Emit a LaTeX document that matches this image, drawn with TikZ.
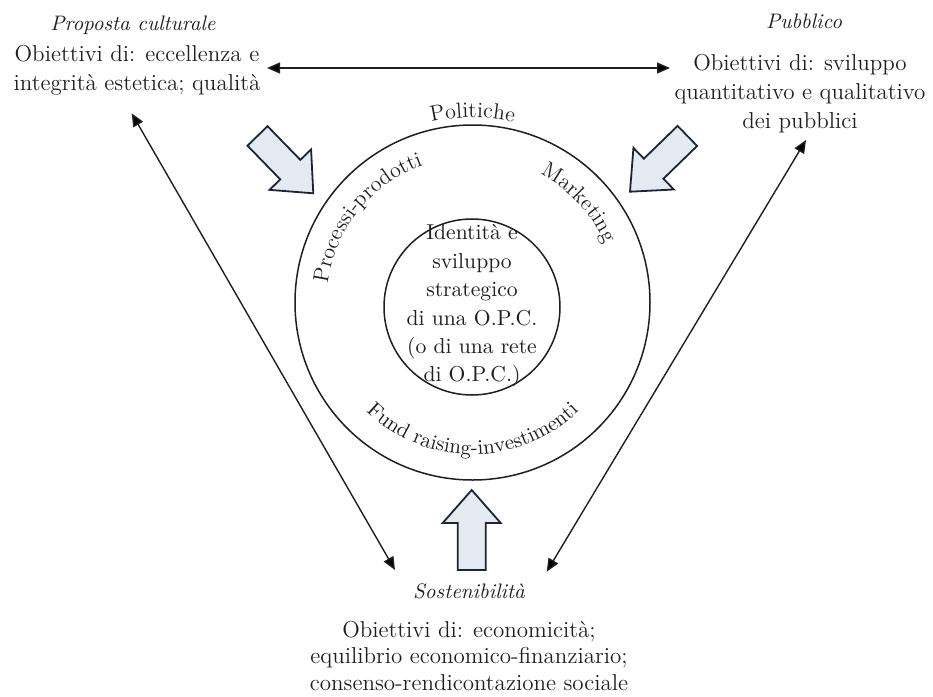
\documentclass[tikz,border=0pt]{standalone}
\usetikzlibrary{arrows.meta, decorations.text}

\definecolor{ink}{HTML}{1E1E24}
\definecolor{arrowfill}{HTML}{E4EAF1}
\definecolor{arrowline}{HTML}{1C2436}

\newcommand{\ringfont}{\fontsize{11}{13}\selectfont}
\newcommand{\ringfontsm}{\fontsize{10.5}{12.5}\selectfont}

\begin{document}
\begin{tikzpicture}[x=0.5pt, y=0.5pt,
  txt/.style={text=ink, inner sep=0pt, align=center, font=\fontsize{11.5}{14.5}\selectfont},
  heading/.style={text=ink, inner sep=0pt, font=\fontsize{10.5}{12}\selectfont\itshape},
  link/.style={draw=ink, line width=0.7pt,
    {Triangle[length=6.5pt,width=5.5pt]}-{Triangle[length=6.5pt,width=5.5pt]}},
  ring/.style={circle, draw=ink, line width=0.75pt, inner sep=0pt},
  fatarrow/.style={draw=arrowline, fill=arrowfill, line width=0.9pt, line join=miter},
  ringlabel/.style={decorate, decoration={text along path, text align=center,
    text color=ink, text={#1}}}
]
\useasboundingbox (0,0) rectangle (933,-697);

% --- the three goal blocks ---
\node[heading, anchor=base] (propH) at (133,-30) {Proposta culturale};
\node[txt] (propT) at (137,-70) {Obiettivi di: eccellenza e\\integrità estetica; qualità};

\node[heading, anchor=base] (pubH) at (804,-28) {Pubblico};
\node[txt] (pubT) at (800,-94) {Obiettivi di: sviluppo\\quantitativo e qualitativo\\dei pubblici};

\node[heading, anchor=base] (sosH) at (469,-598) {Sostenibilità};
\node[txt, font=\fontsize{11.5}{13.3}\selectfont] (sosT) at (469,-656)
  {Obiettivi di: economicità;\\equilibrio economico-finanziario;\\consenso-rendicontazione sociale};

% --- central rings ---
\node[ring, minimum size=177.5pt] (outer) at (472.5,-302.5) {};
\node[ring, minimum size=88pt] (core) at (472,-307) {};
\node[text=ink, align=center, inner sep=0pt, font=\fontsize{10.8}{14.2}\selectfont]
  (coreT) at (472,-306)
  {Identità e\\sviluppo\\strategico\\di una O.P.C.\\(o di una rete\\di O.P.C.)};

% labels set along the outer ring
\path[ringlabel={|\ringfont|Politiche}]
  ([shift={(130:185)}]outer.center) arc (130:50:185);
\path[ringlabel={|\ringfont|Processi-prodotti}]
  ([shift={(185:146)}]outer.center) arc (185:97:146);
\path[ringlabel={|\ringfont|Marketing}]
  ([shift={(80:145)}]outer.center) arc (80:6:145);
\path[ringlabel={|\ringfontsm|Fund raising-investimenti}]
  ([shift={(205:152)}]outer.center) arc (205:335:152);

% --- thin double links between the goal blocks ---
\coordinate (hL) at (267,-68);
\coordinate (hR) at (670,-68);
\coordinate (dLt) at (131.7,-113.3);
\coordinate (dLb) at (395,-570);
\coordinate (dRt) at (806,-140);
\coordinate (dRb) at (546.7,-571.7);
\draw[link] (hL) -- (hR);
\draw[link] (dLt) -- (dLb);
\draw[link] (dRt) -- (dRb);

% --- block arrows pointing at the ring ---
\coordinate (tipTL) at (313.3,-193.3);
\coordinate (tipTR) at (630,-191.7);
\coordinate (tipB) at (471.7,-490);
\foreach \tip/\ang in {tipTL/-45.8, tipTR/224.2, tipB/90}{
  \begin{scope}[shift={(\tip)}, rotate=\ang]
    \draw[fatarrow] (0,0) -- (-33,29) -- (-33,14) -- (-80,14) -- (-80,-14)
      -- (-33,-14) -- (-33,-29) -- cycle;
  \end{scope}
}
\end{tikzpicture}
\end{document}
